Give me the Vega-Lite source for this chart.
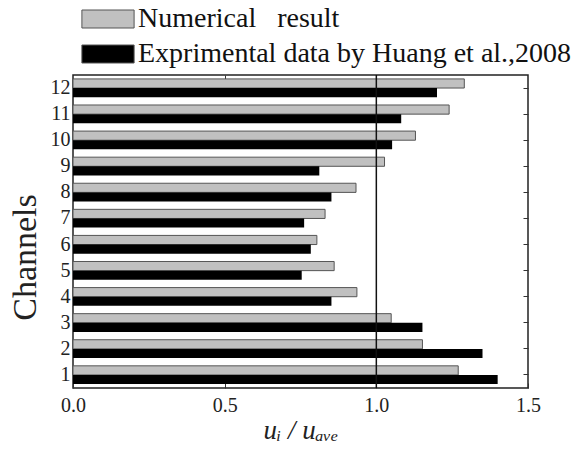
{
  "$schema": "https://vega.github.io/schema/vega-lite/v6.json",
  "width": 455,
  "height": 313,
  "autosize": {"type": "none"},
  "padding": {"left": 73, "top": 75, "right": 53, "bottom": 68},
  "background": "white",
  "config": {
    "view": {"stroke": "#222", "strokeWidth": 1.5},
    "font": "Liberation Serif",
    "axis": {"labelColor": "#222", "titleColor": "#222", "titleFontWeight": "normal", "domain": false, "grid": false, "labelFont": "Liberation Serif", "titleFont": "Liberation Serif", "tickColor": "#333", "tickWidth": 1, "labelFlush": false}
  },
  "datasets": {
    "numerical": [
      {"channel": 1, "value": 1.27, "series": "Numerical\u00a0\u00a0\u00a0result"},
      {"channel": 2, "value": 1.152, "series": "Numerical\u00a0\u00a0\u00a0result"},
      {"channel": 3, "value": 1.049, "series": "Numerical\u00a0\u00a0\u00a0result"},
      {"channel": 4, "value": 0.936, "series": "Numerical\u00a0\u00a0\u00a0result"},
      {"channel": 5, "value": 0.861, "series": "Numerical\u00a0\u00a0\u00a0result"},
      {"channel": 6, "value": 0.804, "series": "Numerical\u00a0\u00a0\u00a0result"},
      {"channel": 7, "value": 0.831, "series": "Numerical\u00a0\u00a0\u00a0result"},
      {"channel": 8, "value": 0.933, "series": "Numerical\u00a0\u00a0\u00a0result"},
      {"channel": 9, "value": 1.027, "series": "Numerical\u00a0\u00a0\u00a0result"},
      {"channel": 10, "value": 1.129, "series": "Numerical\u00a0\u00a0\u00a0result"},
      {"channel": 11, "value": 1.24, "series": "Numerical\u00a0\u00a0\u00a0result"},
      {"channel": 12, "value": 1.29, "series": "Numerical\u00a0\u00a0\u00a0result"}
    ],
    "experimental": [
      {"channel": 1, "value": 1.40, "series": "Exprimental data by Huang et al.,2008"},
      {"channel": 2, "value": 1.35, "series": "Exprimental data by Huang et al.,2008"},
      {"channel": 3, "value": 1.152, "series": "Exprimental data by Huang et al.,2008"},
      {"channel": 4, "value": 0.852, "series": "Exprimental data by Huang et al.,2008"},
      {"channel": 5, "value": 0.754, "series": "Exprimental data by Huang et al.,2008"},
      {"channel": 6, "value": 0.784, "series": "Exprimental data by Huang et al.,2008"},
      {"channel": 7, "value": 0.762, "series": "Exprimental data by Huang et al.,2008"},
      {"channel": 8, "value": 0.852, "series": "Exprimental data by Huang et al.,2008"},
      {"channel": 9, "value": 0.812, "series": "Exprimental data by Huang et al.,2008"},
      {"channel": 10, "value": 1.052, "series": "Exprimental data by Huang et al.,2008"},
      {"channel": 11, "value": 1.082, "series": "Exprimental data by Huang et al.,2008"},
      {"channel": 12, "value": 1.20, "series": "Exprimental data by Huang et al.,2008"}
    ],
    "refline": [{"value": 1.0}]
  },
  "resolve": {"axis": {"x": "independent", "y": "independent"}},
  "layer": [
    {
      "data": {"name": "numerical"},
      "mark": {"type": "bar", "stroke": "#555", "strokeWidth": 1},
      "encoding": {
        "y": {"field": "channel", "type": "ordinal", "sort": "descending",
          "scale": {"paddingInner": 0.3, "paddingOuter": 0.15},
          "axis": {"orient": "left", "title": "Channels", "ticks": false, "labelFontSize": 20, "labelPadding": 3, "labelAngle": 0,
            "titleFontSize": 34, "titleAngle": -90, "titleX": -48, "titleY": 182, "titleBaseline": "middle", "titleAlign": "center"}},
        "x": {"field": "value", "type": "quantitative", "scale": {"domain": [0, 1.5], "nice": false},
          "axis": {"orient": "bottom", "values": [0, 0.5, 1, 1.5], "format": ".1f", "tickSize": -5, "labelPadding": 12, "labelFontSize": 20,
            "title": "uᵢ / uₐᵥₑ", "titleFontStyle": "italic", "titleFontSize": 27, "titlePadding": 2}},
        "yOffset": {"field": "series", "type": "nominal", "scale": {"domain": ["Numerical\u00a0\u00a0\u00a0result", "Exprimental data by Huang et al.,2008"]}},
        "color": {"field": "series", "type": "nominal",
          "scale": {"domain": ["Numerical\u00a0\u00a0\u00a0result", "Exprimental data by Huang et al.,2008"], "range": ["#c0c0c0", "#000000"]},
          "legend": {"orient": "none", "legendX": 21, "legendY": -70, "title": null, "padding": 0,
            "symbolType": "M-2.9,-1H2.9V1H-2.9Z", "symbolSize": 324, "symbolStrokeColor": "#555", "symbolStrokeWidth": 1, "symbolOpacity": 1,
            "labelFontSize": 28, "labelFont": "Liberation Serif", "labelColor": "#111", "labelLimit": 0, "labelOffset": 16, "rowPadding": 7}}
      }
    },
    {
      "data": {"name": "experimental"},
      "mark": {"type": "bar"},
      "encoding": {
        "y": {"field": "channel", "type": "ordinal", "sort": "descending",
          "axis": {"orient": "right", "title": null, "labels": false, "tickSize": -5}},
        "x": {"field": "value", "type": "quantitative", "axis": null},
        "yOffset": {"field": "series", "type": "nominal"},
        "color": {"field": "series", "type": "nominal"}
      }
    },
    {
      "data": {"name": "refline"},
      "mark": {"type": "rule", "color": "#111", "strokeWidth": 1.5},
      "encoding": {
        "x": {"field": "value", "type": "quantitative",
          "axis": {"orient": "top", "title": null, "labels": false, "values": [0.5, 1.0], "tickSize": -5}}
      }
    }
  ]
}
